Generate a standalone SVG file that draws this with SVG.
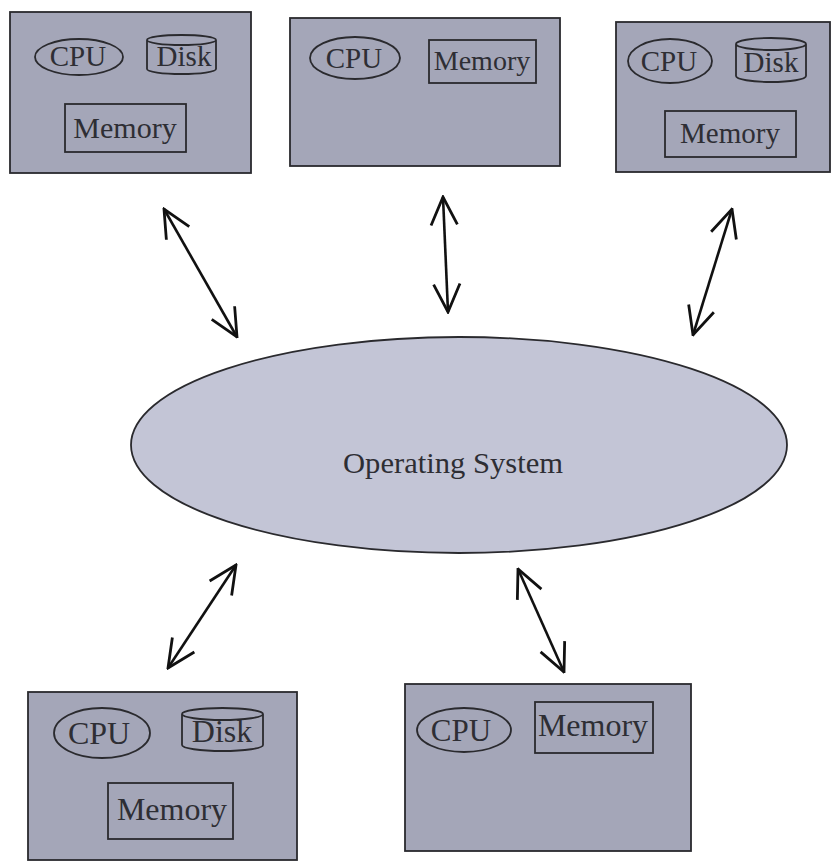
<svg xmlns="http://www.w3.org/2000/svg" width="834" height="863" viewBox="0 0 834 863">
<style>
.box{fill:#a4a6b8;stroke:#2a2a2e;stroke-width:1.8}
.inner{fill:none;stroke:#2a2a2e;stroke-width:1.8}
.os{fill:#c3c5d6;stroke:#2a2a2e;stroke-width:1.8}
.t{font-family:"Liberation Serif",serif;fill:#2e2e34;text-anchor:middle}
.arr{fill:none;stroke:#111;stroke-width:2.6;marker-start:url(#head);marker-end:url(#head)}
</style>
<defs>
<marker id="head" viewBox="0 0 20 20" refX="19" refY="10" markerWidth="31" markerHeight="31" markerUnits="userSpaceOnUse" orient="auto-start-reverse">
<path d="M1,1.5 L19,10 L1,18.5" fill="none" stroke="#111" stroke-width="1.8"/>
</marker>
</defs>
<rect width="834" height="863" fill="#ffffff"/>
<g id="connectors">
<line class="arr" x1="164" y1="209" x2="237" y2="337"/>
<line class="arr" x1="443" y1="197" x2="448" y2="312"/>
<line class="arr" x1="732" y1="209" x2="693" y2="335"/>
<line class="arr" x1="236" y1="565" x2="168" y2="668"/>
<line class="arr" x1="518" y1="569" x2="564" y2="672"/>
</g>
<g id="os">
<ellipse class="os" cx="459" cy="445" rx="328" ry="108"/>
<text class="t" x="453" y="473" font-size="29" textLength="220" lengthAdjust="spacingAndGlyphs">Operating System</text>
</g>
<g id="computer1">
<rect class="box" x="10" y="12" width="241" height="161"/>
<ellipse class="inner" cx="79" cy="57" rx="44" ry="18"/>
<text class="t" x="78" y="66" font-size="29">CPU</text>
<path class="inner" d="M147,40 A34.5,5 0 0,1 216,40 L216,69 A34.5,5 0 0,1 147,69 Z M147,40 A34.5,5 0 0,0 216,40"/>
<text class="t" x="184" y="66" font-size="29">Disk</text>
<rect class="inner" x="65" y="104" width="121" height="48"/>
<text class="t" x="125" y="138" font-size="30">Memory</text>
</g>
<g id="computer2">
<rect class="box" x="290" y="18" width="270" height="148"/>
<ellipse class="inner" cx="355" cy="58" rx="45" ry="21"/>
<text class="t" x="354" y="68" font-size="29">CPU</text>
<rect class="inner" x="429" y="40" width="107" height="43"/>
<text class="t" x="482" y="70" font-size="28">Memory</text>
</g>
<g id="computer3">
<rect class="box" x="616" y="22" width="214" height="150"/>
<ellipse class="inner" cx="670" cy="61" rx="42" ry="22"/>
<text class="t" x="669" y="71" font-size="29">CPU</text>
<path class="inner" d="M736,44 A35,6 0 0,1 806,44 L806,76 A35,6 0 0,1 736,76 Z M736,44 A35,6 0 0,0 806,44"/>
<text class="t" x="771" y="72" font-size="29">Disk</text>
<rect class="inner" x="665" y="111" width="131" height="46"/>
<text class="t" x="730" y="143" font-size="29">Memory</text>
</g>
<g id="computer4">
<rect class="box" x="28" y="692" width="269" height="168"/>
<ellipse class="inner" cx="102" cy="733" rx="48" ry="25"/>
<text class="t" x="99" y="744" font-size="32">CPU</text>
<path class="inner" d="M182,714 A40.5,6 0 0,1 263,714 L263,745 A40.5,6 0 0,1 182,745 Z M182,714 A40.5,6 0 0,0 263,714"/>
<text class="t" x="222" y="742" font-size="32">Disk</text>
<rect class="inner" x="108" y="783" width="125" height="56"/>
<text class="t" x="172" y="820" font-size="32">Memory</text>
</g>
<g id="computer5">
<rect class="box" x="405" y="684" width="286" height="167"/>
<ellipse class="inner" cx="464" cy="730" rx="47" ry="22"/>
<text class="t" x="461" y="741" font-size="31">CPU</text>
<rect class="inner" x="535" y="702" width="118" height="51"/>
<text class="t" x="593" y="736" font-size="32">Memory</text>
</g>
</svg>
